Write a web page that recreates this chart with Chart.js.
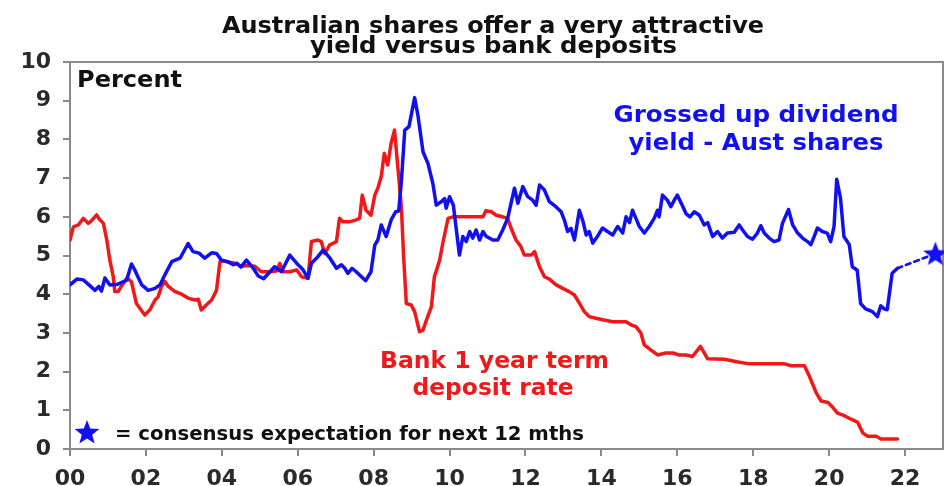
<!DOCTYPE html>
<html>
<head>
<meta charset="utf-8">
<script src="https://cdn.jsdelivr.net/npm/chart.js@4.4.1/dist/chart.umd.min.js"></script>
<style>
    html, body { margin: 0; padding: 0; background: #fff; overflow: hidden; }
    #wrap { width: 944px; height: 486px; position: relative; }
    #chart { display: block; }
</style>
</head>
<body>
<div id="wrap"><canvas id="chart"></canvas></div>
<script>
// --- Data ---
const xTickYears = [2000, 2002, 2004, 2006, 2008, 2010, 2012, 2014, 2016, 2018, 2020, 2022];

const divYears = [
    2000.0, 2000.18, 2000.35, 2000.5, 2000.66, 2000.76, 2000.83, 2000.92, 2001.05, 2001.26,
    2001.49, 2001.62, 2001.71, 2001.89, 2002.06, 2002.24, 2002.37, 2002.5, 2002.68, 2002.9,
    2003.11, 2003.24, 2003.4, 2003.55, 2003.73, 2003.86, 2003.99, 2004.16, 2004.3, 2004.4,
    2004.5, 2004.65, 2004.82, 2004.96, 2005.1, 2005.39, 2005.57, 2005.79, 2005.97, 2006.14,
    2006.27, 2006.36, 2006.53, 2006.67, 2006.85, 2007.02, 2007.15, 2007.24, 2007.32, 2007.43,
    2007.54, 2007.79, 2007.93, 2008.03, 2008.11, 2008.2, 2008.33, 2008.46, 2008.58, 2008.66,
    2008.73, 2008.82, 2008.93, 2009.08, 2009.17, 2009.3, 2009.43, 2009.56, 2009.65, 2009.78,
    2009.87, 2009.91, 2010.0, 2010.1, 2010.26, 2010.35, 2010.44, 2010.53, 2010.61, 2010.7,
    2010.79, 2010.88, 2010.96, 2011.14, 2011.27, 2011.4, 2011.53, 2011.62, 2011.71, 2011.8,
    2011.93, 2012.06, 2012.19, 2012.28, 2012.37, 2012.5, 2012.63, 2012.8, 2012.94, 2013.03,
    2013.11, 2013.2, 2013.29, 2013.42, 2013.51, 2013.6, 2013.68, 2013.77, 2013.9, 2014.03,
    2014.16, 2014.3, 2014.43, 2014.56, 2014.65, 2014.74, 2014.82, 2014.91, 2015.0, 2015.13,
    2015.26, 2015.39, 2015.48, 2015.52, 2015.61, 2015.74, 2015.83, 2015.92, 2016.0, 2016.13,
    2016.23, 2016.33, 2016.45, 2016.58, 2016.71, 2016.8, 2016.93, 2017.06, 2017.19, 2017.32,
    2017.5, 2017.63, 2017.72, 2017.85, 2017.98, 2018.11, 2018.2, 2018.29, 2018.42, 2018.55,
    2018.68, 2018.77, 2018.93, 2019.04, 2019.17, 2019.3, 2019.43, 2019.52, 2019.61, 2019.69,
    2019.82, 2019.95, 2020.04, 2020.13, 2020.2, 2020.3, 2020.39, 2020.53, 2020.61, 2020.74,
    2020.83, 2020.96, 2021.14, 2021.27, 2021.36, 2021.45, 2021.53, 2021.66, 2021.8
];
const divYield = [
    4.24, 4.39, 4.37, 4.24, 4.10, 4.20, 4.08, 4.42, 4.24, 4.26,
    4.36, 4.78, 4.62, 4.24, 4.10, 4.15, 4.24, 4.50, 4.84, 4.93,
    5.31, 5.10, 5.06, 4.93, 5.07, 5.05, 4.88, 4.84, 4.76, 4.80,
    4.70, 4.88, 4.68, 4.47, 4.40, 4.71, 4.58, 5.01, 4.80, 4.63,
    4.41, 4.80, 4.97, 5.14, 4.93, 4.67, 4.76, 4.67, 4.54, 4.67,
    4.58, 4.35, 4.58, 5.27, 5.40, 5.79, 5.49, 5.92, 6.13, 6.15,
    6.91, 8.24, 8.33, 9.08, 8.60, 7.68, 7.38, 6.86, 6.30, 6.39,
    6.47, 6.22, 6.52, 6.30, 5.01, 5.49, 5.36, 5.62, 5.45, 5.66,
    5.40, 5.62, 5.50, 5.40, 5.40, 5.66, 5.96, 6.35, 6.74, 6.35,
    6.78, 6.52, 6.43, 6.30, 6.82, 6.69, 6.39, 6.26, 6.13, 5.90,
    5.62, 5.70, 5.40, 6.17, 5.90, 5.53, 5.62, 5.32, 5.50, 5.71,
    5.62, 5.53, 5.75, 5.58, 6.00, 5.85, 6.17, 5.96, 5.75, 5.58,
    5.75, 5.96, 6.17, 6.00, 6.56, 6.43, 6.26, 6.43, 6.56, 6.30,
    6.08, 6.00, 6.13, 6.04, 5.79, 5.85, 5.49, 5.62, 5.45, 5.58,
    5.60, 5.79, 5.66, 5.49, 5.42, 5.58, 5.77, 5.58, 5.45, 5.36,
    5.40, 5.83, 6.19, 5.79, 5.58, 5.45, 5.36, 5.28, 5.50, 5.71,
    5.62, 5.58, 5.36, 5.75, 6.97, 6.48, 5.49, 5.28, 4.71, 4.62,
    3.76, 3.62, 3.55, 3.42, 3.70, 3.62, 3.60, 4.54, 4.67
];

// dashed link from the last actual to the consensus star
const forecastYears = [2021.8, 2022.8];
const forecastYield = [4.67, 5.05];

const depYears = [
    2000.0, 2000.09, 2000.22, 2000.35, 2000.48, 2000.57, 2000.7, 2000.79, 2000.88, 2000.97,
    2001.05, 2001.14, 2001.18, 2001.27, 2001.35, 2001.5, 2001.62, 2001.75, 2001.97, 2002.1,
    2002.24, 2002.32, 2002.41, 2002.5, 2002.59, 2002.76, 2002.94, 2003.11, 2003.29, 2003.38,
    2003.46, 2003.59, 2003.73, 2003.86, 2003.95, 2004.04, 2004.34, 2004.52, 2004.7, 2004.87,
    2005.04, 2005.2, 2005.44, 2005.53, 2005.61, 2005.79, 2005.97, 2006.1, 2006.27, 2006.36,
    2006.53, 2006.62, 2006.71, 2006.84, 2007.02, 2007.1, 2007.19, 2007.37, 2007.54, 2007.63,
    2007.7, 2007.8, 2007.93, 2008.03, 2008.11, 2008.2, 2008.28, 2008.37, 2008.46, 2008.55,
    2008.64, 2008.73, 2008.79, 2008.86, 2008.99, 2009.08, 2009.21, 2009.3, 2009.39, 2009.52,
    2009.6, 2009.74, 2009.82, 2009.96, 2010.09, 2010.88, 2010.96, 2011.1, 2011.23, 2011.4,
    2011.53, 2011.62, 2011.75, 2011.88, 2011.97, 2012.15, 2012.24, 2012.37, 2012.5, 2012.63,
    2012.81, 2012.98, 2013.16, 2013.29, 2013.42, 2013.55, 2013.68, 2013.86, 2014.03, 2014.3,
    2014.65, 2014.78, 2014.91, 2015.04, 2015.13, 2015.3, 2015.48, 2015.7, 2015.88, 2016.05,
    2016.23, 2016.4, 2016.61, 2016.8, 2017.24, 2017.6, 2017.9, 2018.82, 2019.0, 2019.35,
    2019.48, 2019.66, 2019.79, 2019.97, 2020.1, 2020.22, 2020.4, 2020.58, 2020.75, 2020.89,
    2021.02, 2021.24, 2021.37, 2021.8
];
const depRate = [
    5.40, 5.74, 5.79, 5.96, 5.83, 5.90, 6.05, 5.92, 5.83, 5.40,
    4.88, 4.45, 4.07, 4.07, 4.20, 4.42, 4.32, 3.76, 3.46, 3.59,
    3.85, 3.93, 4.20, 4.33, 4.20, 4.07, 4.00, 3.90, 3.85, 3.87,
    3.59, 3.72, 3.85, 4.10, 4.84, 4.86, 4.80, 4.72, 4.74, 4.72,
    4.58, 4.58, 4.60, 4.80, 4.58, 4.58, 4.63, 4.45, 4.41, 5.36,
    5.40, 5.36, 5.05, 5.27, 5.36, 5.96, 5.87, 5.87, 5.92, 5.96,
    6.56, 6.17, 6.04, 6.56, 6.74, 7.04, 7.64, 7.34, 7.90, 8.24,
    7.25, 6.26, 4.97, 3.76, 3.72, 3.55, 3.03, 3.07, 3.33, 3.67,
    4.45, 4.88, 5.31, 5.96, 6.00, 6.00, 6.16, 6.13, 6.04, 6.00,
    5.96, 5.71, 5.40, 5.23, 5.01, 5.01, 5.10, 4.71, 4.45, 4.39,
    4.24, 4.15, 4.06, 3.98, 3.77, 3.55, 3.42, 3.38, 3.34, 3.29,
    3.29, 3.21, 3.16, 3.00, 2.69, 2.56, 2.43, 2.48, 2.48, 2.43,
    2.43, 2.39, 2.65, 2.33, 2.32, 2.25, 2.20, 2.20, 2.15, 2.15,
    1.88, 1.45, 1.24, 1.20, 1.07, 0.93, 0.86, 0.77, 0.69, 0.41,
    0.33, 0.33, 0.26, 0.26
];

const BLUE = '#1010f0';
const RED = '#f01818';
const AXIS = '#8a8a8a';
const FONT = '"DejaVu Sans", sans-serif';

function toPoints(xs, ys) {
    return xs.map((x, i) => ({ x, y: ys[i] }));
}

// filled five point star, used for the consensus marker and its key
function makeStar(size, color) {
    const c = document.createElement('canvas');
    c.width = size;
    c.height = size;
    const g = c.getContext('2d');
    const r = size / 2, ri = r * 0.42;
    g.beginPath();
    for (let i = 0; i < 10; i++) {
        const rad = i % 2 === 0 ? r : ri;
        const a = -Math.PI / 2 + i * Math.PI / 5;
        g.lineTo(r + rad * Math.cos(a), r + rad * Math.sin(a) + size * 0.04);
    }
    g.closePath();
    g.fillStyle = color;
    g.fill();
    return c;
}
const star = makeStar(26, BLUE);

// text squeezed/stretched to the width it has in the picture
function fitText(ctx, text, x, y, width, align) {
    const w = ctx.measureText(text).width;
    const sx = width / w;
    ctx.save();
    ctx.translate(align === 'center' ? x - width / 2 : x, y);
    ctx.scale(sx, 1);
    ctx.textAlign = 'left';
    ctx.fillText(text, 0, 0);
    ctx.restore();
}

const frame = {
    id: 'frame',
    beforeDatasetsDraw(chart) {
        const { ctx, chartArea: a } = chart;
        ctx.save();
        ctx.strokeStyle = AXIS;
        ctx.lineWidth = 2;
        ctx.strokeRect(a.left, a.top, a.right - a.left, a.bottom - a.top);
        ctx.restore();
    }
};

const labels = {
    id: 'labels',
    afterDraw(chart) {
        const ctx = chart.ctx;
        ctx.save();
        ctx.textBaseline = 'alphabetic';

        ctx.fillStyle = '#111';
        ctx.font = 'bold 23px ' + FONT;
        fitText(ctx, 'Australian shares offer a very attractive', 493, 33, 542, 'center');
        fitText(ctx, 'yield versus bank deposits', 493.5, 53, 367, 'center');
        fitText(ctx, 'Percent', 77, 87, 105, 'left');

        ctx.fillStyle = BLUE;
        fitText(ctx, 'Grossed up dividend', 756, 122, 285, 'center');
        fitText(ctx, 'yield - Aust shares', 756, 150, 255, 'center');

        ctx.fillStyle = RED;
        fitText(ctx, 'Bank 1 year term', 494.5, 368, 229, 'center');
        fitText(ctx, 'deposit rate', 493, 395, 161, 'center');

        ctx.drawImage(star, 87 - 13, 432 - 13);
        ctx.fillStyle = '#111';
        ctx.font = 'bold 19px ' + FONT;
        fitText(ctx, '= consensus expectation for next 12 mths', 115, 440, 469, 'left');
        ctx.restore();
    }
};

const ctx = document.getElementById('chart').getContext('2d');
new Chart(ctx, {
    type: 'line',
    data: {
        datasets: [
            {
                data: toPoints(divYears, divYield),
                borderColor: BLUE,
                borderWidth: 3.5,
                pointRadius: 0,
                tension: 0
            },
            {
                data: toPoints(forecastYears, forecastYield),
                borderColor: BLUE,
                borderWidth: 2.5,
                borderDash: [5, 4],
                pointRadius: [0, 13],
                pointStyle: star,
                pointBackgroundColor: BLUE,
                tension: 0,
                clip: false
            },
            {
                data: toPoints(depYears, depRate),
                borderColor: RED,
                borderWidth: 3.5,
                pointRadius: 0,
                tension: 0
            }
        ]
    },
    options: {
        responsive: true,
        maintainAspectRatio: false,
        animation: false,
        events: [],
        layout: { autoPadding: false, padding: { top: 62, right: 1, left: 0, bottom: 0 } },
        plugins: {
            legend: { display: false },
            tooltip: { enabled: false },
            title: { display: false }
        },
        elements: { line: { borderJoinStyle: 'round', borderCapStyle: 'round' } },
        scales: {
            x: {
                type: 'linear',
                min: 2000,
                max: 2023,
                afterBuildTicks: scale => { scale.ticks = xTickYears.map(v => ({ value: v })); },
                afterFit: scale => {
                    scale.height = 37;
                    scale.paddingLeft = 0;
                    scale.paddingRight = 0;
                },
                ticks: {
                    autoSkip: false,
                    maxRotation: 0,
                    padding: 10,
                    color: '#2a2a2a',
                    font: { family: FONT, size: 22, weight: 'bold' },
                    callback: v => String(v % 100).padStart(2, '0')
                },
                grid: { drawOnChartArea: false, drawTicks: true, tickLength: 7, color: AXIS, lineWidth: 2 },
                border: { color: AXIS, width: 2 }
            },
            y: {
                min: 0,
                max: 10,
                afterFit: scale => {
                    scale.width = 70;
                    scale.paddingTop = 0;
                    scale.paddingBottom = 0;
                },
                ticks: {
                    stepSize: 1,
                    padding: 12,
                    color: '#2a2a2a',
                    font: { family: FONT, size: 22, weight: 'bold' }
                },
                grid: { drawOnChartArea: false, drawTicks: true, tickLength: 7, color: AXIS, lineWidth: 2 },
                border: { color: AXIS, width: 2 }
            }
        }
    },
    plugins: [frame, labels]
});
</script>
</body>
</html>
